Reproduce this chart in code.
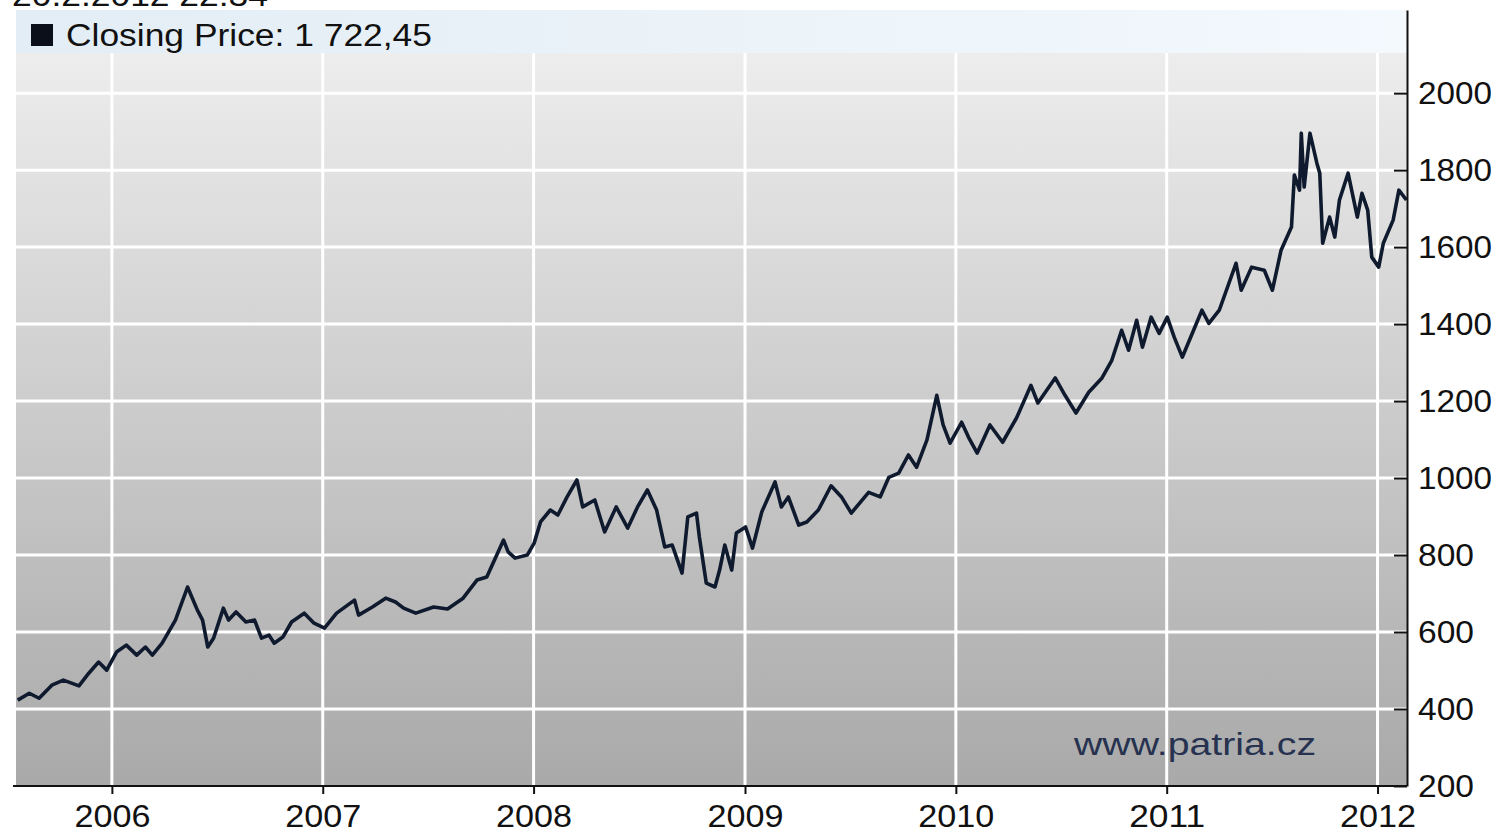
<!DOCTYPE html>
<html>
<head>
<meta charset="utf-8">
<script src="https://cdn.jsdelivr.net/npm/d3@7"></script>
<style>
  body { margin: 0; background: #ffffff; }
  svg { display: block; font-family: 'Liberation Sans', Arial, sans-serif; }
</style>
</head>
<body>
<div id="chart"></div>
<script>
// Closing price (date, value)
const dates = [
  '2005-07-22', '2005-08-11', '2005-08-28', '2005-09-19', '2005-10-09', '2005-11-05', '2005-11-22', '2005-12-09', '2005-12-23',
  '2006-01-09', '2006-01-26', '2006-02-13', '2006-02-28', '2006-03-12', '2006-03-29', '2006-04-21', '2006-05-12', '2006-05-29',
  '2006-06-07', '2006-06-16', '2006-06-26', '2006-07-13', '2006-07-22', '2006-08-04', '2006-08-21', '2006-09-05', '2006-09-17',
  '2006-09-30', '2006-10-09', '2006-10-24', '2006-11-08', '2006-11-30', '2006-12-17',
  '2007-01-04', '2007-01-25', '2007-02-25', '2007-03-04', '2007-03-28', '2007-04-20', '2007-05-07', '2007-05-21', '2007-06-11',
  '2007-07-12', '2007-08-05', '2007-09-01', '2007-09-25', '2007-10-12', '2007-11-10', '2007-11-18', '2007-11-30', '2007-12-21',
  '2008-01-02', '2008-01-13', '2008-01-30', '2008-02-12', '2008-02-28', '2008-03-16', '2008-03-26', '2008-04-16', '2008-05-03',
  '2008-05-23', '2008-06-12', '2008-06-29', '2008-07-16', '2008-08-01', '2008-08-15', '2008-08-28', '2008-09-14', '2008-09-24',
  '2008-10-09', '2008-10-14', '2008-10-26', '2008-11-10', '2008-11-18', '2008-11-27', '2008-12-09', '2008-12-17',
  '2009-01-02', '2009-01-14', '2009-01-30', '2009-02-22', '2009-03-05', '2009-03-17', '2009-04-04', '2009-04-18', '2009-05-08',
  '2009-05-30', '2009-06-17', '2009-07-04', '2009-08-03', '2009-08-23', '2009-09-07', '2009-09-24', '2009-10-11', '2009-10-25',
  '2009-11-12', '2009-11-29', '2009-12-10', '2009-12-22',
  '2010-01-11', '2010-01-23', '2010-02-07', '2010-03-01', '2010-03-23', '2010-04-16', '2010-05-11', '2010-05-23', '2010-06-22',
  '2010-07-09', '2010-07-28', '2010-08-19', '2010-09-11', '2010-09-28', '2010-10-15', '2010-10-27', '2010-11-10', '2010-11-20',
  '2010-12-05', '2010-12-19',
  '2011-01-02', '2011-01-14', '2011-01-28', '2011-03-03', '2011-03-15', '2011-04-02', '2011-05-01', '2011-05-10', '2011-05-28',
  '2011-06-19', '2011-07-03', '2011-07-18', '2011-08-05', '2011-08-10', '2011-08-19', '2011-08-22', '2011-08-27', '2011-09-06',
  '2011-09-18', '2011-09-23', '2011-09-28', '2011-10-10', '2011-10-19', '2011-10-27', '2011-11-11', '2011-11-27', '2011-12-05',
  '2011-12-15', '2011-12-22',
  '2012-01-03', '2012-01-11', '2012-01-28', '2012-02-07', '2012-02-20'
];
const closes = [
  423, 441, 428, 462, 475, 460, 493, 522, 501,
  548, 566, 540, 561, 540, 571, 631, 717, 657,
  631, 561, 584, 662, 631, 652, 626, 631, 584,
  592, 571, 587, 626, 649, 623,
  610, 649, 683, 644, 665, 688, 678, 662, 649,
  665, 660, 688, 735, 743, 839, 808, 792, 800,
  831, 886, 917, 904, 951, 995, 925, 943, 860,
  925, 870, 925, 969, 917, 821, 826, 753, 899,
  909, 847, 727, 717, 761, 826, 761, 857,
  873, 818, 912, 990, 925, 951, 878, 886, 917,
  980, 951, 909, 963, 951, 1002, 1013, 1060, 1028,
  1099, 1215, 1138, 1091,
  1145, 1106, 1065, 1138, 1093, 1156, 1241, 1195, 1260,
  1215, 1169, 1223, 1260, 1306, 1384, 1332, 1410, 1340,
  1418, 1376,
  1418, 1366, 1314, 1436, 1402, 1436, 1558, 1488, 1548,
  1540, 1488, 1592, 1652, 1787, 1748, 1896, 1756, 1896,
  1818, 1792, 1610, 1678, 1626, 1722, 1792, 1678, 1740,
  1696, 1574,
  1548, 1610, 1670, 1748, 1722.45
];

const yearTicks = [2006, 2007, 2008, 2009, 2010, 2011, 2012];
const priceTicks = [200, 400, 600, 800, 1000, 1200, 1400, 1600, 1800, 2000];
const timestampLabel = '20.2.2012 22:34';
const legendLabel = 'Closing Price: 1 722,45';
const watermark = 'www.patria.cz';

const parseDate = d3.timeParse('%Y-%m-%d');
const data = dates.map((d, i) => ({ date: parseDate(d), close: closes[i] }));

// Dimensions
const W = 1502;
const H = 836;
const plot = { left: 16, right: 1407, top: 10, bottom: 786 };

const svg = d3
  .select('#chart')
  .append('svg')
  .attr('width', W)
  .attr('height', H);

// Scales
const xScale = d3
  .scaleTime()
  .domain([parseDate('2005-07-19'), parseDate('2012-02-21')])
  .range([plot.left, plot.right]);

const yScale = d3
  .scaleLinear()
  .domain([200, 2216])
  .range([plot.bottom, plot.top]);

// Background gradients
const defs = svg.append('defs');
const bg = defs
  .append('linearGradient')
  .attr('id', 'bg')
  .attr('x1', 0).attr('y1', 0).attr('x2', 0).attr('y2', 1);
bg.append('stop').attr('offset', '0%').attr('stop-color', '#f1f1f1');
bg.append('stop').attr('offset', '100%').attr('stop-color', '#a9a9a9');

const band = defs
  .append('linearGradient')
  .attr('id', 'band')
  .attr('x1', 0).attr('y1', 0).attr('x2', 1).attr('y2', 0);
band.append('stop').attr('offset', '0%').attr('stop-color', '#e3edf5');
band.append('stop').attr('offset', '100%').attr('stop-color', '#f3f9fd');

svg
  .append('rect')
  .attr('x', plot.left)
  .attr('y', plot.top)
  .attr('width', plot.right - plot.left)
  .attr('height', plot.bottom - plot.top)
  .attr('fill', 'url(#bg)');

// Grid lines
const yearDates = yearTicks.map((y) => new Date(y, 0, 1));

svg
  .append('g')
  .selectAll('line')
  .data(priceTicks.filter((v) => v > 200))
  .enter()
  .append('line')
  .attr('x1', plot.left)
  .attr('x2', plot.right)
  .attr('y1', (d) => yScale(d))
  .attr('y2', (d) => yScale(d))
  .attr('stroke', '#ffffff')
  .attr('stroke-width', 3);

svg
  .append('g')
  .selectAll('line')
  .data(yearDates)
  .enter()
  .append('line')
  .attr('x1', (d) => xScale(d))
  .attr('x2', (d) => xScale(d))
  .attr('y1', plot.top)
  .attr('y2', plot.bottom)
  .attr('stroke', '#ffffff')
  .attr('stroke-width', 3);

// Legend band at the top of the plot
svg
  .append('rect')
  .attr('x', plot.left)
  .attr('y', plot.top)
  .attr('width', plot.right - plot.left)
  .attr('height', 43)
  .attr('fill', 'url(#band)');

// Price line
const line = d3
  .line()
  .x((d) => xScale(d.date))
  .y((d) => yScale(d.close));

svg
  .append('path')
  .datum(data)
  .attr('d', line)
  .attr('fill', 'none')
  .attr('stroke', '#0f1a2e')
  .attr('stroke-width', 3.6)
  .attr('stroke-linejoin', 'round');

// Axes
const xAxis = d3
  .axisBottom(xScale)
  .tickValues(yearDates)
  .tickFormat(d3.timeFormat('%Y'))
  .tickSizeInner(8)
  .tickSizeOuter(0)
  .tickPadding(10);

const yAxis = d3
  .axisRight(yScale)
  .tickValues(priceTicks)
  .tickFormat(d3.format('d'))
  .tickSizeInner(-13)
  .tickSizeOuter(0);

const gx = svg
  .append('g')
  .attr('transform', `translate(0,${plot.bottom})`)
  .call(xAxis);
gx.select('.domain').attr('d', `M${plot.left - 3},0H${plot.right}`);

const gy = svg
  .append('g')
  .attr('transform', `translate(${plot.right},0)`)
  .call(yAxis);

[gx, gy].forEach((g) => {
  g.select('.domain').attr('stroke', '#111').attr('stroke-width', 2);
  g.selectAll('.tick line').attr('stroke', '#111').attr('stroke-width', 2);
  g.selectAll('.tick text')
    .attr('fill', '#111')
    .attr('lengthAdjust', 'spacingAndGlyphs')
    .style('font-size', '32px')
    .style('font-family', "'Liberation Sans', Arial, sans-serif");
});
gy.selectAll('.tick text').attr('x', 11).attr('textLength', (d) => (d >= 1000 ? 74 : 56));
gx.selectAll('.tick text').attr('textLength', 76);

// Header texts
svg
  .append('text')
  .attr('x', 12)
  .attr('y', 6)
  .attr('fill', '#111')
  .attr('textLength', 256)
  .attr('lengthAdjust', 'spacingAndGlyphs')
  .style('font-size', '31px')
  .text(timestampLabel);

svg
  .append('rect')
  .attr('x', 31)
  .attr('y', 24)
  .attr('width', 22)
  .attr('height', 22)
  .attr('fill', '#0b0f1a');

svg
  .append('text')
  .attr('x', 66)
  .attr('y', 46)
  .attr('fill', '#111')
  .attr('textLength', 366)
  .attr('lengthAdjust', 'spacingAndGlyphs')
  .style('font-size', '31px')
  .text(legendLabel);

// Watermark
svg
  .append('text')
  .attr('x', 1074)
  .attr('y', 755)
  .attr('fill', '#26324f')
  .attr('textLength', 242)
  .attr('lengthAdjust', 'spacingAndGlyphs')
  .style('font-size', '32px')
  .text(watermark);
</script>
</body>
</html>
